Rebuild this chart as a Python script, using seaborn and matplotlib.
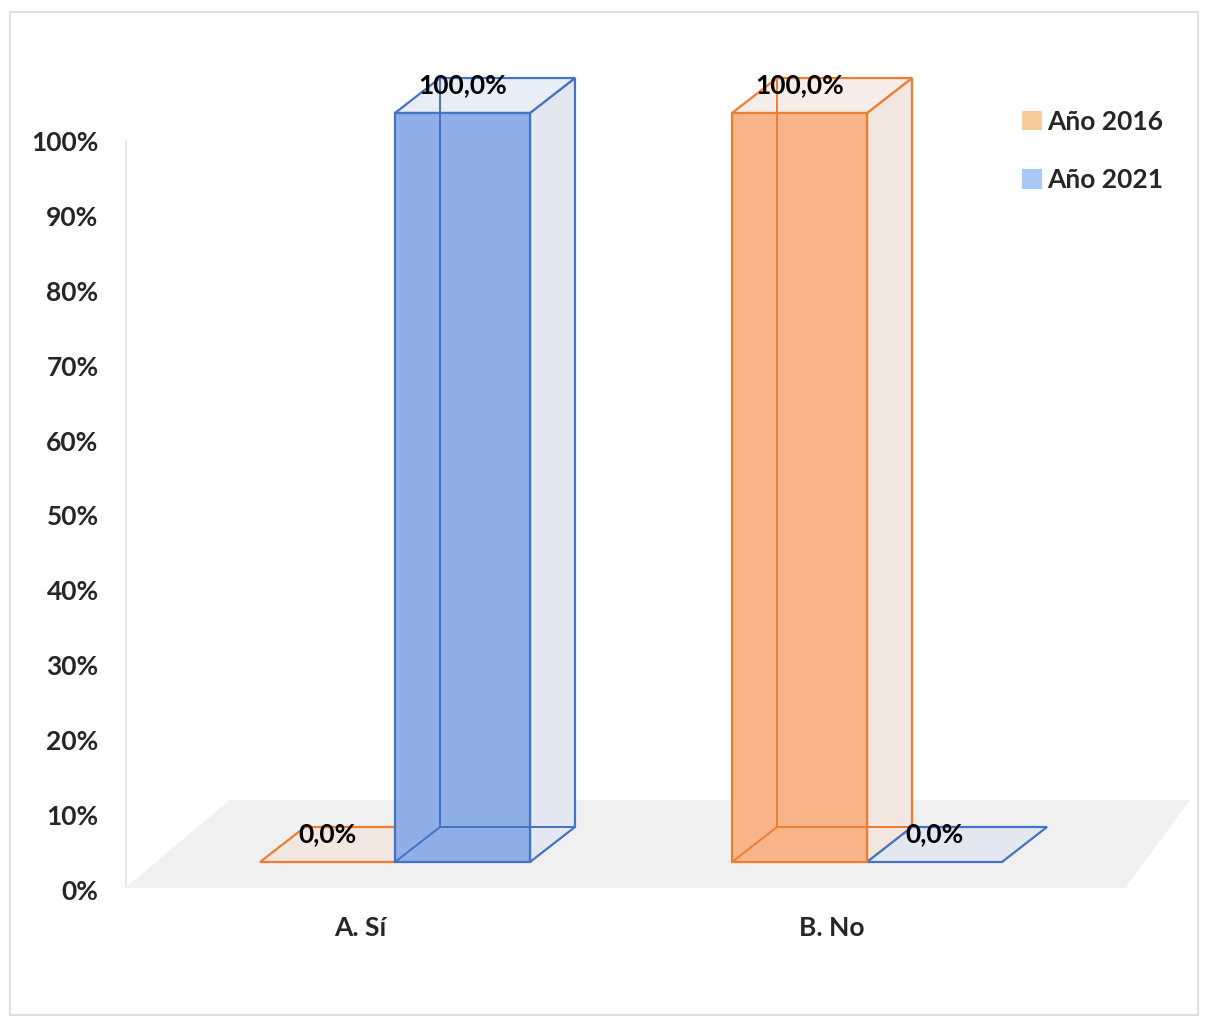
import matplotlib
matplotlib.use('Agg')
import matplotlib.pyplot as plt
import matplotlib.transforms as mtransforms
from matplotlib.patches import Polygon, Rectangle, Patch
import seaborn as sns
import pandas as pd

categorias = ['A. Sí', 'B. No']
anios = ['Año 2016', 'Año 2021']
valores_2016 = [0.0, 100.0]
valores_2021 = [100.0, 0.0]

df = pd.DataFrame({
    'categoria': categorias * 2,
    'anio': [anios[0]] * 2 + [anios[1]] * 2,
    'valor': valores_2016 + valores_2021,
})

# colores: relleno frontal, borde, cara lateral, cara superior, leyenda
frente = {'Año 2016': '#F7B589', 'Año 2021': '#8FAFE6'}
borde = {'Año 2016': '#ED7D31', 'Año 2021': '#4472C4'}
lateral = {'Año 2016': '#F2E7E0', 'Año 2021': '#E3E7F0'}
superior = {'Año 2016': '#F6EDE8', 'Año 2021': '#E9EDF5'}
leyenda = {'Año 2016': '#F8CB9C', 'Año 2021': '#A9C8F5'}

sns.set_style('white')
plt.rcParams['font.family'] = ['Lato', 'DejaVu Sans']
fs = 19

W, H = 1208, 1025
fig = plt.figure(figsize=(W / 100, H / 100), dpi=100)

# ejes en pixeles de la figura
px_l, px_r, px_t, px_b = 125, 1190, 60, 890
ax = fig.add_axes([px_l / W, 1 - px_b / H, (px_r - px_l) / W, (px_b - px_t) / H])

# escala: 472 px por categoria, 7.49 px por punto porcentual, base frontal en y=862
ux = 472.0
uy = 7.49
x0px = 395.0
base = 862.0

sns.barplot(data=df, x='categoria', y='valor', hue='anio', order=categorias, hue_order=anios,
            palette=frente, width=0.572, ax=ax, legend=False, saturation=1)
ax.set_xlim((px_l - x0px) / ux, (px_r - x0px) / ux)
ax.set_ylim((base - px_b) / uy, (base - px_t) / uy)

dx = 45 / ux
dy = 35 / uy

# suelo
suelo = Polygon([((125 - x0px) / ux, (base - 888) / uy), ((230 - x0px) / ux, (base - 800) / uy),
                 ((1190 - x0px) / ux, (base - 800) / uy), ((1125 - x0px) / ux, (base - 888) / uy)],
                closed=True, facecolor='#F0F0F0', edgecolor='none', zorder=0)
ax.add_patch(suelo)
ax.plot([(125 - x0px) / ux] * 2, [(base - 885) / uy, (base - 140) / uy], color='#E6E6E6', lw=2, zorder=0)

for anio, cont in zip(anios, ax.containers):
    ec = borde[anio]
    for bar in cont.patches:
        x0 = bar.get_x()
        w = bar.get_width()
        v = bar.get_height()
        x1 = x0 + w
        bar.set_edgecolor(ec)
        bar.set_linewidth(1.6)
        bar.set_zorder(3)
        if v == 0:
            bar.set_visible(False)
        # cara lateral y superior
        if v > 0:
            ax.add_patch(Polygon([(x1, 0), (x1 + dx, dy), (x1 + dx, v + dy), (x1, v)], closed=True,
                                 facecolor=lateral[anio], edgecolor=ec, lw=1.6, zorder=2))
        ax.add_patch(Polygon([(x0, v), (x1, v), (x1 + dx, v + dy), (x0 + dx, v + dy)], closed=True,
                             facecolor=superior[anio] if v > 0 else lateral[anio], edgecolor=ec, lw=1.6, zorder=2))
        # aristas ocultas
        if v > 0:
            ax.plot([x0 + dx, x0 + dx], [dy, v + dy], color=ec, lw=1.4, zorder=4)
            ax.plot([x0 + dx, x1 + dx], [dy, dy], color=ec, lw=1.4, zorder=4)
            ax.plot([x0, x0 + dx], [0, dy], color=ec, lw=1.4, zorder=4)
        etiqueta = f'{v:.1f}%'.replace('.', ',')
        ax.text(x0 + w / 2, v + dy - 0.9, etiqueta, ha='center', va='center',
                fontsize=fs, fontweight='bold', color='black', zorder=6)

ax.set_yticks(range(0, 101, 10))
ax.set_yticklabels([f'{t}%' for t in range(0, 101, 10)])
ax.set_xticks([0, 1])
ax.set_xticklabels(categorias)
ax.tick_params(axis='both', length=0, labelsize=fs)
ax.tick_params(axis='y', pad=19)
ax.tick_params(axis='x', pad=19)
for lab in ax.get_yticklabels() + ax.get_xticklabels():
    lab.set_fontweight('bold')
off_y = mtransforms.ScaledTranslation(0, -0.28, fig.dpi_scale_trans)
for lab in ax.get_yticklabels():
    lab.set_transform(lab.get_transform() + off_y)
off_x = mtransforms.ScaledTranslation(-0.35, 0, fig.dpi_scale_trans)
for lab in ax.get_xticklabels():
    lab.set_transform(lab.get_transform() + off_x)
ax.set_xlabel('')
ax.set_ylabel('')
for s in ax.spines.values():
    s.set_visible(False)
ax.patch.set_alpha(0)

handles = [Patch(facecolor=leyenda[a], edgecolor='none') for a in anios]
fig.legend(handles, anios, loc='upper left', bbox_to_anchor=(998 / W, 1 - 86 / H),
           frameon=False, prop={'weight': 'bold', 'size': fs}, handlelength=0.75, handleheight=0.75,
           handletextpad=0.2, labelspacing=1.3)

fig.patches.append(Rectangle((10 / W, 10 / H), 1188 / W, 1003 / H, transform=fig.transFigure,
                             fill=False, edgecolor='#D9D9D9', lw=1.2))

fig.savefig('out.png', dpi=100)
